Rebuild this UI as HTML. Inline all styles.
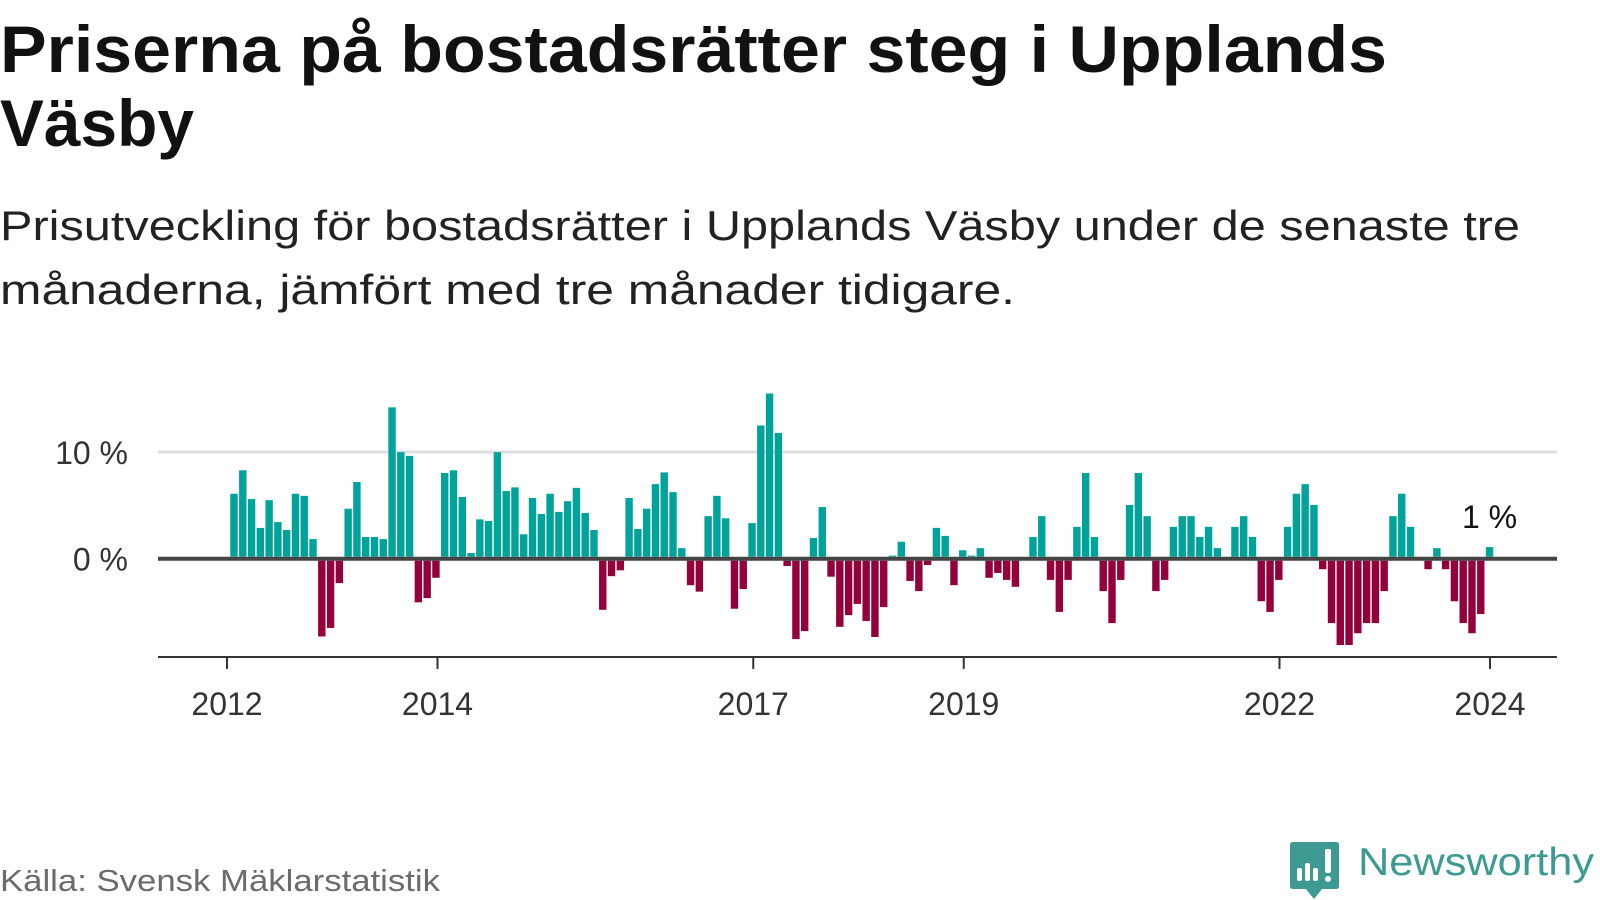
<!DOCTYPE html>
<html><head><meta charset="utf-8"><style>
html,body{margin:0;padding:0;background:#fff;width:1600px;height:900px;overflow:hidden}
svg{display:block;font-family:"Liberation Sans",sans-serif}
</style></head><body>
<svg id="chart" width="1600" height="900" viewBox="0 0 1600 900">
<text x="0" y="72" font-size="66" font-weight="bold" fill="#111" textLength="1387" lengthAdjust="spacingAndGlyphs">Priserna på bostadsrätter steg i Upplands</text>
<text x="0" y="146" font-size="66" font-weight="bold" fill="#111" textLength="194" lengthAdjust="spacingAndGlyphs">Väsby</text>
<text x="0" y="240" font-size="42" fill="#222" textLength="1520" lengthAdjust="spacingAndGlyphs">Prisutveckling för bostadsrätter i Upplands Väsby under de senaste tre</text>
<text x="0" y="304" font-size="42" fill="#222" textLength="1015" lengthAdjust="spacingAndGlyphs">månaderna, jämfört med tre månader tidigare.</text>
<g id="plot"></g>
<text x="0" y="891" font-size="31" fill="#6b6b6b" textLength="440" lengthAdjust="spacingAndGlyphs">Källa: Svensk Mäklarstatistik</text>
<g>
<path d="M1293 842 H1336 Q1339 842 1339 845 V886 Q1339 889 1336 889 H1322 L1314 899 L1306 889 H1293 Q1290 889 1290 886 V845 Q1290 842 1293 842 Z" fill="#3d9a92"/>
<rect x="1297" y="868" width="5" height="13" rx="2" fill="#fff"/>
<rect x="1305" y="863" width="5" height="18" rx="2" fill="#fff"/>
<rect x="1313" y="868" width="5" height="13" rx="2" fill="#fff"/>
<rect x="1325" y="849" width="6" height="24" rx="2" fill="#fff"/>
<circle cx="1328" cy="879" r="3" fill="#fff"/>
<text x="1358" y="875" font-size="39" fill="#3d9a92" textLength="236" lengthAdjust="spacingAndGlyphs">Newsworthy</text>
</g>
</svg>
<script>
const values = [5.9,8.1,5.4,2.7,5.3,3.25,2.5,5.9,5.7,1.65,-7.1,-6.3,-2.1,4.5,7.0,1.85,1.85,1.65,14.0,9.8,9.45,-3.9,-3.5,-1.6,7.85,8.1,5.6,0.35,3.5,3.35,9.8,6.15,6.5,2.1,5.5,4.0,5.9,4.2,5.2,6.45,4.1,2.5,-4.6,-1.45,-0.9,5.5,2.6,4.5,6.8,7.9,6.05,0.8,-2.3,-2.9,3.8,5.7,3.6,-4.5,-2.65,3.15,12.3,15.3,11.6,-0.5,-7.35,-6.6,1.75,4.65,-1.5,-6.2,-5.1,-4.05,-5.65,-7.15,-4.35,0.1,1.4,-1.9,-2.85,-0.4,2.7,1.95,-2.3,0.6,0.1,0.8,-1.6,-1.15,-1.8,-2.45,0,1.85,3.8,-1.8,-4.8,-1.8,2.8,7.85,1.85,-2.85,-5.85,-1.8,4.85,7.85,3.8,-2.85,-1.8,2.8,3.8,3.8,1.85,2.8,0.8,0,2.8,3.8,1.85,-3.8,-4.8,-1.8,2.8,5.9,6.8,4.85,-0.8,-5.85,-7.9,-7.9,-6.8,-5.85,-5.85,-2.85,3.8,5.9,2.8,0,-0.8,0.8,-0.8,-3.8,-5.85,-6.8,-5.0,0.9];
const yTicks = [0, 10];
const yTickLabels = ["0 %", "10 %"];
const xTicks = [2012, 2014, 2017, 2019, 2022, 2024];
const lastLabel = "1 %";

const NS = "http://www.w3.org/2000/svg";
const g = document.getElementById('plot');
const X0 = 158, X1 = 1557;
const yZero = 558.7, pxPerUnit = 10.67;
const y = v => yZero - v * pxPerUnit;
const barStart = 234, barStep = 8.78, barW = 7.4;
const xBar = i => barStart + i * barStep;
const xYear = yr => 227 + (yr - 2012) * (1490 - 227) / 12;
function mk(tag, attrs){const e=document.createElementNS(NS,tag);for(const k in attrs)e.setAttribute(k,attrs[k]);g.appendChild(e);return e;}

yTicks.forEach((t,i)=>{
  if(t!==0){
    const l = mk('line',{x1:X0,x2:X1,y1:y(t),y2:y(t),stroke:'#dedede','stroke-width':3});
    
    
  }
  const tx = mk('text',{x:128,y:y(t)+12,'font-size':32,'text-anchor':'end',fill:'#333'});
  tx.textContent = yTickLabels[i];
  
  
});

values.forEach((v,i)=>{
  const top = v>=0 ? y(v)-2 : yZero+2;
  const h = Math.abs(v)*pxPerUnit;
  const r = mk('rect',{x:xBar(i)-barW/2,y:top,width:barW,height:h,fill:v>=0?'#00a39a':'#93003a'});
  
  
});

const z = mk('line',{x1:X0,x2:X1,y1:yZero,y2:yZero,stroke:'#444','stroke-width':4});


const ax = mk('line',{x1:X0,x2:X1,y1:657,y2:657,stroke:'#333','stroke-width':2});


xTicks.forEach(yr=>{
  const tk = mk('line',{x1:xYear(yr),x2:xYear(yr),y1:657,y2:669,stroke:'#333','stroke-width':2});
  
  
  const t = mk('text',{x:xYear(yr),y:715,'font-size':32,'text-anchor':'middle',fill:'#333'});
  t.textContent = yr;
  
  
});
const li = values.length-1;
const lab = mk('text',{x:xBar(li),y:528,'font-size':32,'text-anchor':'middle',fill:'#111'});
lab.textContent = lastLabel;


</script>
</body></html>
